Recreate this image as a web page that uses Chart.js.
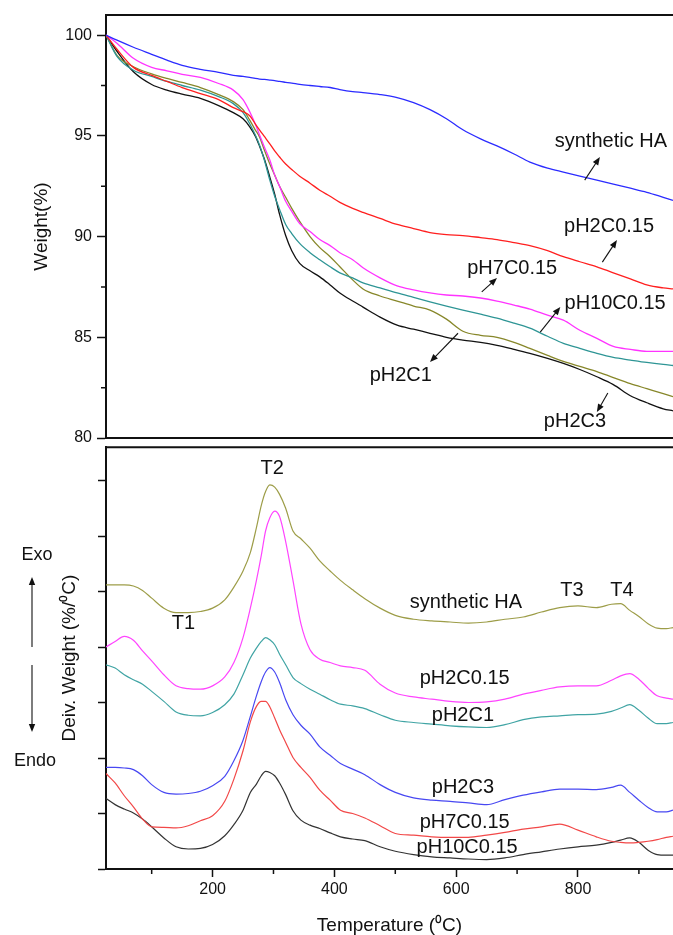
<!DOCTYPE html>
<html>
<head>
<meta charset="utf-8">
<script src="https://cdn.jsdelivr.net/npm/chart.js@4.4.0/dist/chart.umd.min.js"></script>
<style>
  html, body { margin: 0; padding: 0; background: #fff; }
  #wrap { position: relative; width: 673px; height: 935px; overflow: hidden; }
  .box { position: absolute; left: 0; width: 673px; }
  #topBox { top: 0; height: 453px; }
  #botBox { top: 440px; height: 495px; }
</style>
</head>
<body>
<div id="wrap">
  <div class="box" id="topBox"><canvas id="tgaChart" width="673" height="453"></canvas></div>
  <div class="box" id="botBox"><canvas id="dtgChart" width="673" height="495"></canvas></div>
</div>
<script>
// ---- TGA (top panel) ----
const tgaTemps = [25, 43, 70, 100, 125, 150, 180, 210, 234, 250, 261, 270, 277, 285, 294, 302, 310, 320, 330, 343,
  360, 376, 393, 409, 430, 447, 475, 503, 530, 557, 584, 611, 640, 667, 695, 721, 750, 776, 803, 831, 858, 886, 913, 940, 956];
const wSynthHA = [100, 99.75, 99.4, 99.05, 98.76, 98.5, 98.3, 98.15, 98.0, 97.95, 97.9, 97.85, 97.82, 97.8, 97.77, 97.74, 97.7, 97.66, 97.62, 97.56,
  97.5, 97.45, 97.4, 97.3, 97.2, 97.15, 97.05, 96.9, 96.65, 96.3, 95.85, 95.3, 94.85, 94.5, 94.1, 93.7, 93.4, 93.2, 93.0, 92.8, 92.6, 92.4, 92.2, 91.95, 91.8];
const wPH2C015 = [100, 99.3, 98.4, 98.0, 97.7, 97.4, 97.1, 96.8, 96.4, 96.2, 96.0, 95.6, 95.3, 94.97, 94.6, 94.25, 93.95, 93.6, 93.33, 93.0,
  92.65, 92.3, 92.0, 91.7, 91.4, 91.2, 90.9, 90.6, 90.4, 90.2, 90.1, 90.05, 89.95, 89.85, 89.7, 89.55, 89.3, 89.0, 88.75, 88.5, 88.2, 87.9, 87.6, 87.45, 87.4];
const wPH7C015 = [100, 99.6, 98.85, 98.4, 98.23, 98.05, 97.9, 97.6, 97.27, 96.8, 96.2, 95.6, 95.05, 94.45, 93.8, 93.05, 92.5, 91.75, 91.25, 90.65,
  90.25, 89.85, 89.55, 89.2, 88.85, 88.45, 87.95, 87.55, 87.35, 87.2, 87.1, 87.05, 86.95, 86.8, 86.6, 86.4, 86.1, 85.85, 85.35, 84.95, 84.55, 84.4, 84.3, 84.3, 84.3];
const wPH10C015 = [100, 98.95, 98.26, 97.95, 97.7, 97.5, 97.27, 96.95, 96.6, 96.15, 95.6, 95.05, 94.55, 93.8, 92.8, 92.0, 91.35, 90.6, 90.15, 89.66,
  89.2, 88.85, 88.5, 88.2, 87.95, 87.7, 87.45, 87.2, 86.98, 86.76, 86.55, 86.35, 86.15, 85.95, 85.7, 85.45, 85.05, 84.7, 84.45, 84.2, 84.0, 83.87, 83.75, 83.65, 83.6];
const wPH2C1 = [100, 99.0, 98.43, 98.08, 97.85, 97.65, 97.4, 97.05, 96.7, 96.3, 95.78, 95.3, 94.95, 94.3, 93.6, 93.05, 92.5, 91.95, 91.4, 90.75,
  90.0, 89.45, 89.0, 88.5, 87.85, 87.4, 87.05, 86.8, 86.55, 86.35, 85.9, 85.3, 85.1, 85.0, 84.75, 84.45, 84.1, 83.8, 83.55, 83.3, 83.0, 82.7, 82.45, 82.2, 82.05];
const wPH2C3 = [100, 99.2, 98.18, 97.55, 97.27, 97.07, 96.86, 96.5, 96.15, 95.85, 95.45, 95.0, 94.5, 93.85, 92.95, 92.1, 91.1, 90.05, 89.3, 88.67,
  88.3, 88.0, 87.6, 87.2, 86.8, 86.5, 86.0, 85.6, 85.4, 85.2, 85.0, 84.86, 84.75, 84.6, 84.4, 84.2, 83.95, 83.7, 83.4, 83.04, 82.65, 82.1, 81.75, 81.45, 81.35];

// ---- DTG (bottom panel, arbitrary offset units) ----
const dtgTemps = [25, 40, 55, 70, 85, 100, 120, 140, 160, 180, 200, 220, 235, 250, 262, 272, 280, 287, 294, 302,
  310, 320, 332, 345, 360, 376, 393, 410, 430, 450, 475, 500, 530, 560, 590, 620, 650, 680, 710, 740,
  770, 800, 830, 855, 870, 885, 900, 915, 930, 945, 956];
const dSynthHA = [5.12, 5.12, 5.12, 5.10, 5.02, 4.88, 4.70, 4.62, 4.62, 4.64, 4.70, 4.85, 5.08, 5.37, 5.70, 6.15, 6.55, 6.80, 6.92, 6.88,
  6.75, 6.50, 6.09, 5.95, 5.78, 5.55, 5.37, 5.20, 5.03, 4.87, 4.70, 4.57, 4.50, 4.47, 4.45, 4.43, 4.45, 4.50, 4.54, 4.63,
  4.71, 4.74, 4.71, 4.77, 4.78, 4.66, 4.55, 4.42, 4.34, 4.33, 4.35];
const dPH2C015 = [4.00, 4.10, 4.19, 4.12, 3.93, 3.75, 3.50, 3.30, 3.25, 3.24, 3.30, 3.46, 3.72, 4.17, 4.70, 5.20, 5.65, 6.09, 6.33, 6.45,
  6.35, 5.90, 5.20, 4.42, 3.95, 3.78, 3.72, 3.66, 3.63, 3.58, 3.33, 3.17, 3.10, 3.06, 3.02, 3.00, 3.01, 3.06, 3.15, 3.22,
  3.28, 3.30, 3.30, 3.40, 3.48, 3.52, 3.42, 3.26, 3.12, 3.08, 3.06];
const dPH2C1 = [3.68, 3.62, 3.50, 3.41, 3.33, 3.20, 3.02, 2.83, 2.77, 2.76, 2.82, 2.96, 3.15, 3.50, 3.80, 3.98, 4.10, 4.17, 4.13, 4.04,
  3.87, 3.68, 3.45, 3.34, 3.24, 3.15, 3.05, 2.97, 2.94, 2.89, 2.78, 2.68, 2.64, 2.61, 2.58, 2.56, 2.55, 2.60, 2.69, 2.74,
  2.76, 2.78, 2.79, 2.84, 2.90, 2.96, 2.86, 2.72, 2.62, 2.62, 2.64];
const dPH2C3 = [1.83, 1.83, 1.82, 1.79, 1.68, 1.52, 1.38, 1.35, 1.36, 1.40, 1.50, 1.67, 1.95, 2.32, 2.75, 3.12, 3.38, 3.55, 3.63, 3.55,
  3.36, 3.05, 2.78, 2.59, 2.43, 2.20, 2.05, 1.90, 1.80, 1.70, 1.52, 1.38, 1.28, 1.24, 1.22, 1.19, 1.16, 1.25, 1.33, 1.39,
  1.44, 1.44, 1.43, 1.47, 1.51, 1.38, 1.24, 1.11, 1.03, 1.03, 1.06];
const dPH7C015 = [1.72, 1.55, 1.32, 1.12, 0.90, 0.76, 0.75, 0.74, 0.78, 0.87, 0.96, 1.22, 1.62, 2.13, 2.65, 2.93, 3.02, 3.02, 2.92, 2.72,
  2.51, 2.28, 2.01, 1.83, 1.65, 1.42, 1.24, 1.06, 1.00, 0.92, 0.78, 0.64, 0.61, 0.58, 0.57, 0.57, 0.61, 0.66, 0.72, 0.76,
  0.81, 0.70, 0.58, 0.50, 0.48, 0.47, 0.48, 0.50, 0.53, 0.57, 0.59];
const dPH10C015 = [1.27, 1.16, 1.08, 1.01, 0.90, 0.76, 0.56, 0.40, 0.36, 0.37, 0.44, 0.60, 0.80, 1.06, 1.38, 1.53, 1.68, 1.76, 1.74, 1.68,
  1.55, 1.34, 1.05, 0.88, 0.79, 0.73, 0.65, 0.58, 0.54, 0.51, 0.40, 0.32, 0.26, 0.22, 0.20, 0.18, 0.17, 0.20, 0.26, 0.31,
  0.36, 0.40, 0.43, 0.48, 0.52, 0.56, 0.48, 0.34, 0.26, 0.25, 0.25];

const tgaYTicks = [80, 85, 90, 95, 100];
const tgaYMinor = [82.5, 87.5, 92.5, 97.5];
const tempTicks = [200, 400, 600, 800];
const tempMinor = [100, 300, 500, 700, 900];
const dtgYTicks = [0, 1, 2, 3, 4, 5, 6, 7];

const FONT = '"Liberation Sans", Arial, Helvetica, sans-serif';
const INK = '#111';
Chart.defaults.font.family = FONT;
Chart.defaults.color = INK;

const pts = (xs, ys) => xs.map((t, i) => ({ x: t, y: ys[i] }));
const line = (xs, ys, color, w) => ({
  data: pts(xs, ys), borderColor: color, borderWidth: w, pointRadius: 0,
  fill: false, cubicInterpolationMode: 'monotone'
});

function drawArrow(ctx, x1, y1, x2, y2) {
  const a = Math.atan2(y2 - y1, x2 - x1);
  const head = 8, half = 3.2;
  ctx.lineWidth = 1.1;
  ctx.beginPath();
  ctx.moveTo(x1, y1);
  ctx.lineTo(x2 - head * 0.7 * Math.cos(a), y2 - head * 0.7 * Math.sin(a));
  ctx.stroke();
  ctx.beginPath();
  ctx.moveTo(x2, y2);
  ctx.lineTo(x2 - head * Math.cos(a) + half * Math.sin(a), y2 - head * Math.sin(a) - half * Math.cos(a));
  ctx.lineTo(x2 - head * Math.cos(a) - half * Math.sin(a), y2 - head * Math.sin(a) + half * Math.cos(a));
  ctx.closePath();
  ctx.fill();
}

// labels placed in data coordinates, arrows go from a curve to its label
function notesPlugin(items) {
  return {
    id: 'notes',
    afterDatasetsDraw(chart) {
      const { ctx, scales: { x, y } } = chart;
      ctx.save();
      ctx.fillStyle = INK;
      ctx.strokeStyle = INK;
      ctx.font = '20px ' + FONT;
      ctx.textAlign = 'center';
      ctx.textBaseline = 'middle';
      items.forEach(n => {
        ctx.fillText(n.text, x.getPixelForValue(n.at[0]), y.getPixelForValue(n.at[1]));
        if (n.from) {
          drawArrow(ctx, x.getPixelForValue(n.from[0]), y.getPixelForValue(n.from[1]),
            x.getPixelForValue(n.to[0]), y.getPixelForValue(n.to[1]));
        }
      });
      ctx.restore();
    }
  };
}

function minorTicksPlugin(axisId, values, len) {
  return {
    id: 'minor_' + axisId,
    afterDraw(chart) {
      const s = chart.scales[axisId];
      const area = chart.chartArea;
      const ctx = chart.ctx;
      ctx.save();
      ctx.strokeStyle = INK;
      ctx.lineWidth = 1.5;
      ctx.beginPath();
      values.forEach(v => {
        const p = s.getPixelForValue(v);
        if (s.isHorizontal()) {
          ctx.moveTo(p, area.bottom); ctx.lineTo(p, area.bottom + len);
        } else {
          ctx.moveTo(area.left, p); ctx.lineTo(area.left - len, p);
        }
      });
      ctx.stroke();
      ctx.restore();
    }
  };
}

const topLine = {
  id: 'topLine',
  afterDraw(chart) {
    const { ctx, chartArea: a } = chart;
    ctx.save();
    ctx.strokeStyle = INK;
    ctx.lineWidth = 2;
    ctx.beginPath();
    ctx.moveTo(a.left - 1, a.top);
    ctx.lineTo(a.right + 2, a.top);
    ctx.stroke();
    ctx.restore();
  }
};

const tgaNotes = [
  { text: 'synthetic HA', at: [854, 94.7], from: [811, 92.8], to: [836, 93.95] },
  { text: 'pH2C0.15', at: [851, 90.5], from: [840, 88.73], to: [864, 89.83] },
  { text: 'pH7C0.15', at: [692, 88.4], from: [642, 87.25], to: [667, 87.94] },
  { text: 'pH10C0.15', at: [861, 86.7], from: [738, 85.26], to: [771, 86.5] },
  { text: 'pH2C1', at: [509, 83.1], from: [603, 85.2], to: [557, 83.77] },
  { text: 'pH2C3', at: [795, 80.8], from: [849, 82.23], to: [831, 81.29] }
];

const dtgNotes = [
  { text: 'T1', at: [152, 4.42] },
  { text: 'T2', at: [298, 7.22] },
  { text: 'synthetic HA', at: [616, 4.81] },
  { text: 'T3', at: [790, 5.01] },
  { text: 'T4', at: [872, 5.01] },
  { text: 'pH2C0.15', at: [614, 3.43] },
  { text: 'pH2C1', at: [611, 2.76] },
  { text: 'pH2C3', at: [611, 1.47] },
  { text: 'pH7C0.15', at: [614, 0.84] },
  { text: 'pH10C0.15', at: [618, 0.38] }
];

// Exo / Endo marker left of the lower panel
const exoEndo = {
  id: 'exoEndo',
  afterDraw(chart) {
    const ctx = chart.ctx;
    ctx.save();
    ctx.fillStyle = INK;
    ctx.strokeStyle = INK;
    ctx.font = '18px ' + FONT;
    ctx.textAlign = 'center';
    ctx.textBaseline = 'middle';
    ctx.fillText('Exo', 37, 115);
    ctx.fillText('Endo', 35, 321);
    drawArrow(ctx, 32, 207, 32, 137);
    drawArrow(ctx, 32, 225, 32, 292);
    ctx.restore();
  }
};

const axisX = (showLabels, title) => ({
  type: 'linear', min: 25, max: 956,
  afterBuildTicks: s => { s.ticks = tempTicks.map(v => ({ value: v })); },
  afterFit: s => { s.height = showLabels ? 66 : 0; },
  ticks: { display: showLabels, font: { size: 16 }, color: INK, padding: 3, maxRotation: 0 },
  grid: { display: true, drawOnChartArea: false, drawTicks: showLabels, tickLength: 8, tickWidth: 1.5, tickColor: INK },
  border: { display: true, color: INK, width: 2 },
  title: title ? { display: true, text: title, font: { size: 19 }, color: INK, padding: { top: 0, bottom: -2 } } : { display: false }
});

new Chart(document.getElementById('tgaChart'), {
  type: 'line',
  data: {
    datasets: [
      line(tgaTemps, wSynthHA, '#2b2bff', 1.3),
      line(tgaTemps, wPH2C015, '#ff1f1f', 1.3),
      line(tgaTemps, wPH7C015, '#ff33ff', 1.3),
      line(tgaTemps, wPH10C015, '#2e9595', 1.3),
      line(tgaTemps, wPH2C1, '#87872a', 1.3),
      line(tgaTemps, wPH2C3, '#111111', 1.3)
    ]
  },
  plugins: [notesPlugin(tgaNotes), minorTicksPlugin('y', tgaYMinor, 5), topLine],
  options: {
    responsive: false,
    animation: false,
    layout: { padding: { top: 15, bottom: 15, left: 0, right: 0 } },
    plugins: { legend: { display: false }, tooltip: { enabled: false } },
    scales: {
      x: axisX(false, null),
      y: {
        min: 80, max: 101,
        afterBuildTicks: s => { s.ticks = tgaYTicks.map(v => ({ value: v })); },
        afterFit: s => { s.width = 106; },
        ticks: { font: { size: 16 }, color: INK, padding: 5 },
        grid: { display: true, drawOnChartArea: false, drawTicks: true, tickLength: 9, tickWidth: 1.5, tickColor: INK },
        border: { display: true, color: INK, width: 2 },
        title: { display: true, text: 'Weight(%)', font: { size: 19 }, color: INK, padding: { top: 30, bottom: 0 } }
      }
    }
  }
});

new Chart(document.getElementById('dtgChart'), {
  type: 'line',
  data: {
    datasets: [
      line(dtgTemps, dSynthHA, '#9d9d48', 1.2),
      line(dtgTemps, dPH2C015, '#ff44ff', 1.2),
      line(dtgTemps, dPH2C1, '#40a4a4', 1.2),
      line(dtgTemps, dPH2C3, '#4848f2', 1.2),
      line(dtgTemps, dPH7C015, '#f24848', 1.2),
      line(dtgTemps, dPH10C015, '#333333', 1.2)
    ]
  },
  plugins: [notesPlugin(dtgNotes), minorTicksPlugin('x', tempMinor, 5), topLine, exoEndo],
  options: {
    responsive: false,
    animation: false,
    layout: { padding: { top: 6, bottom: 0, left: 0, right: 0 } },
    plugins: { legend: { display: false }, tooltip: { enabled: false } },
    scales: {
      x: axisX(true, 'Temperature (\u2070C)'),
      y: {
        min: 0, max: 7.6,
        afterBuildTicks: s => { s.ticks = dtgYTicks.map(v => ({ value: v })); },
        afterFit: s => { s.width = 106; },
        ticks: { callback: () => '', padding: 0 },
        grid: { display: true, drawOnChartArea: false, drawTicks: true, tickLength: 8, tickWidth: 1.5, tickColor: INK },
        border: { display: true, color: INK, width: 2 },
        title: { display: true, text: 'Deiv. Weight (%/\u2070C)', font: { size: 19 }, color: INK, padding: { top: 58, bottom: 0 } }
      }
    }
  }
});
</script>
</body>
</html>
